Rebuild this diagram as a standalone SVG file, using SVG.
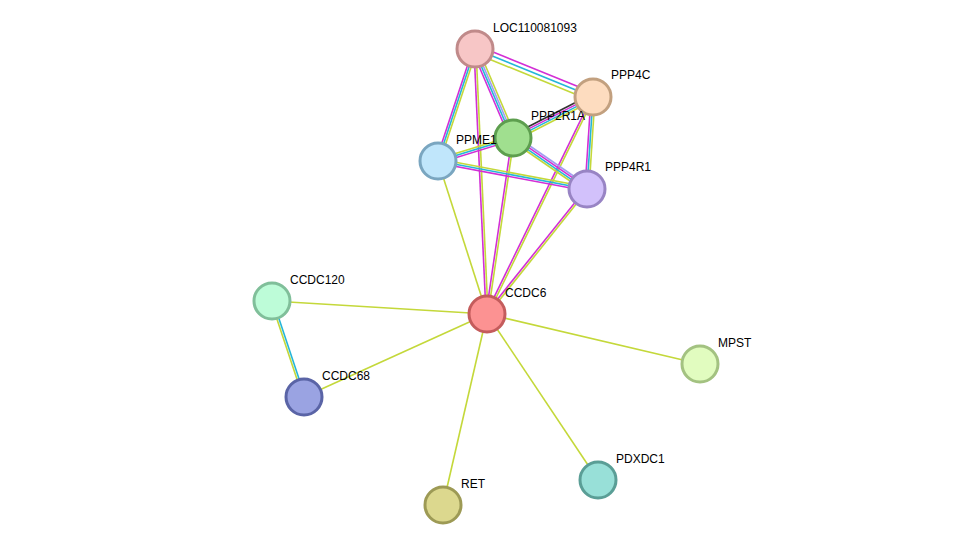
<svg xmlns="http://www.w3.org/2000/svg" width="976" height="551" viewBox="0 0 976 551">
<style>
line{stroke-width:1.6;fill:none}
.y{stroke:#c4d83a}.m{stroke:#d22fd6}.c{stroke:#25b6d8}.l{stroke:#a29cf2}.k{stroke:#333}
circle{stroke-width:3}
text{font-family:"Liberation Sans",Arial,sans-serif;font-size:12px;fill:#000}
</style>
<rect width="976" height="551" fill="#fff"/>
<g id="edges">
<line class="y" x1="475" y1="49" x2="593" y2="97" transform="translate(-1.5,3.7)"/>
<line class="c" x1="475" y1="49" x2="593" y2="97" transform="translate(0,0)"/>
<line class="m" x1="475" y1="49" x2="593" y2="97" transform="translate(1.5,-3.7)"/>
<line class="y" x1="475" y1="49" x2="513" y2="138" transform="translate(2.8,-1.2)"/>
<line class="l" x1="475" y1="49" x2="513" y2="138" transform="translate(0.9,-0.4)"/>
<line class="c" x1="475" y1="49" x2="513" y2="138" transform="translate(-0.9,0.4)"/>
<line class="m" x1="475" y1="49" x2="513" y2="138" transform="translate(-2.8,1.2)"/>
<line class="m" x1="475" y1="49" x2="438" y2="161" transform="translate(-1.9,-0.6)"/>
<line class="c" x1="475" y1="49" x2="438" y2="161"/>
<line class="y" x1="475" y1="49" x2="438" y2="161" transform="translate(1.9,0.6)"/>
<line class="m" x1="475" y1="49" x2="487" y2="314" transform="translate(-1,0)"/>
<line class="y" x1="475" y1="49" x2="487" y2="314" transform="translate(1,0)"/>
<line class="k" x1="593" y1="97" x2="513" y2="138" transform="translate(-1.4,-2.7)"/>
<line class="m" x1="593" y1="97" x2="513" y2="138" transform="translate(-0.5,-0.9)"/>
<line class="c" x1="593" y1="97" x2="513" y2="138" transform="translate(0.5,0.9)"/>
<line class="y" x1="593" y1="97" x2="513" y2="138" transform="translate(1.4,2.7)"/>
<line class="m" x1="593" y1="97" x2="587" y2="189" transform="translate(-2,0)"/>
<line class="c" x1="593" y1="97" x2="587" y2="189"/>
<line class="y" x1="593" y1="97" x2="587" y2="189" transform="translate(2,0)"/>
<line class="m" x1="593" y1="97" x2="487" y2="314" transform="translate(-0.9,-0.45)"/>
<line class="y" x1="593" y1="97" x2="487" y2="314" transform="translate(0.9,0.45)"/>
<line class="y" x1="513" y1="138" x2="438" y2="161" transform="translate(-0.6,-1.9)"/>
<line class="c" x1="513" y1="138" x2="438" y2="161"/>
<line class="m" x1="513" y1="138" x2="438" y2="161" transform="translate(0.6,1.9)"/>
<line class="l" x1="513" y1="138" x2="587" y2="189" transform="translate(1.7,-2.5)"/>
<line class="m" x1="513" y1="138" x2="587" y2="189" transform="translate(0.6,-0.8)"/>
<line class="c" x1="513" y1="138" x2="587" y2="189" transform="translate(-0.6,0.8)"/>
<line class="y" x1="513" y1="138" x2="587" y2="189" transform="translate(-1.7,2.5)"/>
<line class="m" x1="513" y1="138" x2="487" y2="314" transform="translate(-1,-0.15)"/>
<line class="y" x1="513" y1="138" x2="487" y2="314" transform="translate(1,0.15)"/>
<line class="y" x1="438" y1="161" x2="587" y2="189" transform="translate(0.4,-2)"/>
<line class="c" x1="438" y1="161" x2="587" y2="189"/>
<line class="m" x1="438" y1="161" x2="587" y2="189" transform="translate(-0.4,2)"/>
<line class="y" x1="438" y1="161" x2="487" y2="314"/>
<line class="m" x1="587" y1="189" x2="487" y2="314" transform="translate(-0.8,-0.6)"/>
<line class="y" x1="587" y1="189" x2="487" y2="314" transform="translate(0.8,0.6)"/>
<line class="y" x1="487" y1="314" x2="272" y2="301"/>
<line class="y" x1="487" y1="314" x2="304" y2="397"/>
<line class="y" x1="487" y1="314" x2="700" y2="364"/>
<line class="y" x1="487" y1="314" x2="598" y2="480"/>
<line class="y" x1="487" y1="314" x2="443" y2="505"/>
<line class="y" x1="272" y1="301" x2="304" y2="397" transform="translate(-1,0.3)"/>
<line class="c" x1="272" y1="301" x2="304" y2="397" transform="translate(1,-0.3)"/>
</g>
<g id="LOC110081093"><circle cx="475" cy="49" r="18" fill="#f7c6c6" stroke="#c08a8a"/><text x="493" y="32">LOC110081093</text></g>
<g id="PPP4C"><circle cx="593" cy="97" r="18" fill="#fddcbf" stroke="#c2a07f"/><text x="611" y="79">PPP4C</text></g>
<g id="PPP2R1A"><circle cx="513" cy="138" r="18" fill="#a0df8f" stroke="#5d9e4e"/><text x="531" y="120">PPP2R1A</text></g>
<g id="PPME1"><circle cx="438" cy="161" r="18" fill="#c0e6fb" stroke="#7aa6c0"/><text x="456" y="144">PPME1</text></g>
<g id="PPP4R1"><circle cx="587" cy="189" r="18" fill="#d2c1fb" stroke="#9884c4"/><text x="605" y="171">PPP4R1</text></g>
<g id="CCDC6"><circle cx="487" cy="314" r="18" fill="#fc9292" stroke="#c45c5c"/><text x="505" y="297">CCDC6</text></g>
<g id="CCDC120"><circle cx="272" cy="301" r="18" fill="#bdfcd8" stroke="#80bf9a"/><text x="290" y="284">CCDC120</text></g>
<g id="CCDC68"><circle cx="304" cy="397" r="18" fill="#9aa3e2" stroke="#5a64a6"/><text x="322" y="380">CCDC68</text></g>
<g id="MPST"><circle cx="700" cy="364" r="18" fill="#e1fcbf" stroke="#a3c281"/><text x="718" y="347">MPST</text></g>
<g id="PDXDC1"><circle cx="598" cy="480" r="18" fill="#98e0d8" stroke="#5a9e96"/><text x="616" y="463">PDXDC1</text></g>
<g id="RET"><circle cx="443" cy="505" r="18" fill="#dcd88e" stroke="#9d9a55"/><text x="461" y="488">RET</text></g>
</svg>
